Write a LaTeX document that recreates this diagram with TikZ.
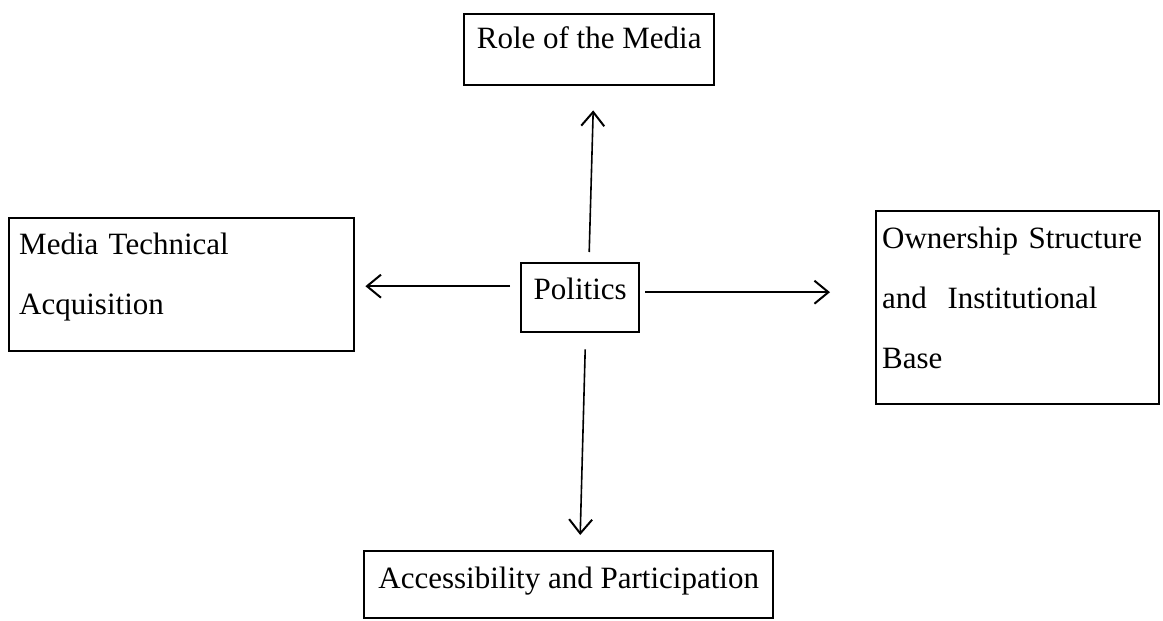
\documentclass[tikz,border=0pt]{standalone}
\usepackage{fontspec}
\setmainfont{Liberation Serif}
\usetikzlibrary{arrows.meta}
\usetikzlibrary{calc}

\tikzset{
  box/.style={draw, line width=1.2pt, anchor=north west, inner ysep=0pt, align=left,
    font=\fontsize{15.5pt}{30pt}\selectfont},
  arr/.style={line width=0.8pt, -{Straight Barb[length=7pt,width=11.5pt,line width=1pt]}}
}

\begin{document}
\begin{tikzpicture}[x=0.5pt,y=0.5pt,yscale=-1]
    \useasboundingbox (0,0) rectangle (1163,621);
    %Shape: Rectangle [Role]
    \node [box, inner xsep=0pt, minimum width=125pt, text height=17pt, text depth=18.5pt] (role) at (463,13) {Role of the Media};
    %Shape: Rectangle [Politics]
    \node [box, inner xsep=0pt, minimum width=59pt, text height=18pt, text depth=16.5pt] (politics) at (520,262) {Politics};
    %Shape: Rectangle [Media]
    \node [box, inner xsep=5pt, text width=162.5pt, text height=18pt, text depth=48.5pt] (media) at (8,217) {Media Technical\\Acquisition};
    %Shape: Rectangle [Ownership]
    \node [box, inner xsep=3pt, text width=135.5pt, text height=18.5pt, text depth=78pt] (ownership) at (875,210) {Ownership Structure\\and\ \ Institutional\\Base};
    %Shape: Rectangle [Access]
    \node [box, inner xsep=0pt, minimum width=204.5pt, text height=18.5pt, text depth=15pt] (access) at (363,550) {Accessibility and Participation};
    %Straight Lines
    \draw [arr] ($(politics.north)+(9,-10)$) -- ($(role.south)+(4,24)$);
    \draw [arr] ($(politics.south)+(5,16)$) -- ($(access.north)+(11.5,-15)$);
    \draw [arr] ($(politics.west)+(-10,-11.5)$) -- ($(media.east)+(10,1.5)$);
    \draw [arr] ($(politics.east)+(5,-5.5)$) -- ($(ownership.west)+(-45,-15.5)$);
\end{tikzpicture}
\end{document}
